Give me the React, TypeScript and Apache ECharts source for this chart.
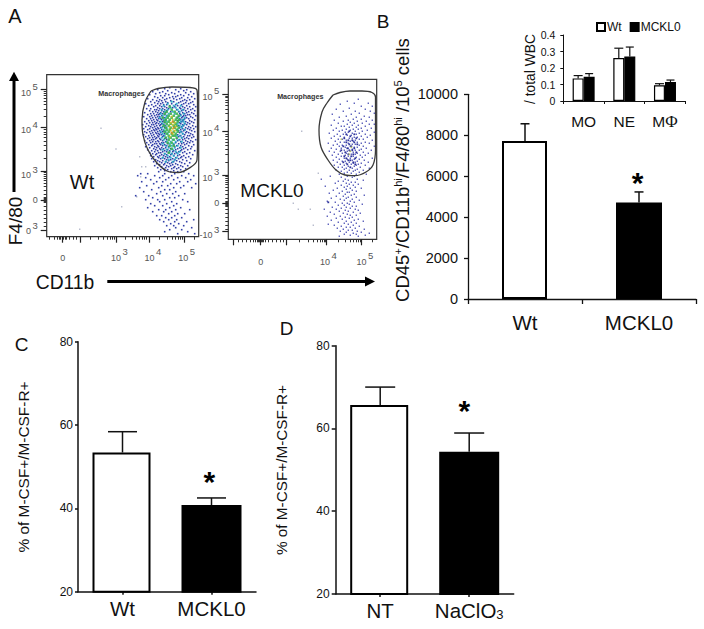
import React, { useEffect, useRef } from "react";
import * as echarts from "echarts";

const FONT = "Liberation Sans";

// ---- Panel B
const bCats = ["Wt", "MCKL0"];
const bValues = [7720, 4720];
const bUpper = [8560, 5230];
// ---- Panel B inset
const insetCats = ["MO", "NE", "MΦ"];
const insetWt = [0.137, 0.26, 0.095];
const insetWtUpper = [0.154, 0.32, 0.105];
const insetKo = [0.147, 0.27, 0.115];
const insetKoUpper = [0.166, 0.327, 0.127];
// ---- Panel C
const cCats = ["Wt", "MCKL0"];
const cValues = [53.4, 40.8];
const cUpper = [58.4, 42.5];
// ---- Panel D
const dCats = ["NT", "NaClO3"];
const dValues = [65.7, 54.4];
const dUpper = [70, 58.9];

// ---- Panel A: display-channel scale of each flow plot
const a1XMajor = [15.6, 33.3, 70, 102.3, 137.3];
const a1XMinor = [3, 8, 11, 12.5, 14, 17, 18.5, 20, 23, 27, 30, 44, 52, 57, 61, 64, 66, 68, 79, 86, 90, 93, 96, 98, 100, 113, 121, 126, 129, 132, 134, 136, 148];
const a1YMajor = [147.4, 109, 65, 36.7, 6.7];
const a1YMinor = [120.6, 127.3, 132.1, 135.8, 138.9, 141.4, 143.7, 145.6, 78.2, 86, 91.5, 95.8, 99.2, 102.2, 104.7, 107, 42, 46, 50, 53, 56, 58, 60, 62, 64, 34, 35, 36, 37, 38, 39, 30, 26, 22, 18, 14, 10];
const a1XLabels: [number, string][] = [[16, "0"], [72.6, "10{s|3}"], [106.3, "10{s|4}"], [140, "10{s|5}"]];
const a1YLabels: [number, string][] = [[143.9, "10{s|5}"], [106.4, "10{s|4}"], [61.7, "10{s|3}"], [36.7, "0"], [5.7, "0{s|3}"]];

const a2XMajor = [5, 32.4, 58.4, 98.4, 133.4];
const a2XMinor = [10, 14, 18, 22, 25, 27, 29, 30, 31, 33, 34, 35, 37, 40, 44, 48, 52, 55, 71, 80, 85, 89, 92, 94, 96, 97, 110, 117, 122, 125, 128, 130, 132, 144];
const a2YMajor = [145.3, 107.6, 64, 36, 7.6];
const a2YMinor = [119, 125.7, 130.3, 134, 137, 139.4, 141.6, 143.5, 77, 84.6, 90, 94, 97.5, 100.4, 102.8, 105, 41, 45, 49, 52, 55, 57, 59, 61, 63, 33, 34, 35, 37, 38, 30, 26, 22, 18, 14, 10];
const a2XLabels: [number, string][] = [[32.4, "0"], [100, "10{s|4}"], [136.7, "10{s|5}"]];
const a2YLabels: [number, string][] = [[142.6, "10{s|5}"], [106, "10{s|4}"], [61.6, "10{s|3}"], [36, "0"], [4.3, "-10{s|3}"]];

const gateWt = [[104.3, 145.7], [111.3, 148.2], [125.3, 149.7], [143.3, 149.2], [150.3, 146.7], [150.8, 136.7], [150.8, 96.7], [150.3, 76.7], [144.3, 69.7], [131.3, 64.2], [120.3, 65.7], [110.3, 73.7], [101.3, 86.7], [96.3, 101.7], [95.3, 116.7], [98.3, 134.7], [104.3, 145.7]];
const gateKo = [[104.7, 144.3], [111.7, 146.8], [121.7, 148.3], [133.7, 148.3], [143.7, 146.8], [147.2, 142.3], [147.2, 119.3], [147.2, 89.3], [144.7, 74.3], [137.7, 67.3], [126.7, 63.6], [116.7, 64.3], [107.7, 69.3], [99.7, 79.3], [92.7, 92.3], [90.7, 109.3], [93.7, 127.3], [98.7, 136.3], [104.7, 144.3]];

type Rows = [number, number[]][];
const wtBlue: Rows = [
  [149, [123]], [148, [118, 134]], [147, [111, 129, 140]], [146, [121, 137]], [145, [106, 116, 132, 144]], [144, [113, 125, 139]],
  [143, [109, 119, 128, 147]], [142, [103, 122, 134, 142]], [141, [114, 118, 131, 137]], [140, [108, 126, 129, 145]],
  [139, [111, 116, 123, 135, 141]], [138, [101, 120, 127, 133, 148]], [137, [106, 113, 118, 130, 138, 143]], [136, [110, 115, 124, 136, 140]],
  [135, [104, 112, 119, 127, 134, 146]], [134, [108, 116, 121, 132, 139, 144]], [133, [99, 111, 114, 125, 137, 142]], [132, [105, 117, 120, 129, 135, 147]],
  [131, [102, 109, 113, 123, 131, 140]], [130, [107, 115, 118, 128, 136, 143, 149]], [129, [111, 120, 126, 133, 138]], [128, [100, 104, 113, 116, 122, 134, 141, 146]],
  [127, [108, 110, 118, 130, 137, 144]], [126, [103, 112, 115, 120, 135, 139, 148]], [125, [106, 109, 117, 124, 132, 142]], [124, [98, 111, 114, 119, 136, 140, 145]],
  [123, [104, 107, 113, 116, 133, 138, 147]], [122, [101, 110, 112, 118, 134, 141, 143]], [121, [105, 108, 115, 120, 137, 139, 149]], [120, [97, 103, 111, 113, 132, 136, 144]],
  [119, [106, 109, 116, 118, 135, 140, 146]], [118, [100, 104, 112, 114, 133, 138, 142]], [117, [107, 110, 115, 119, 134, 137, 148]], [116, [102, 105, 111, 117, 131, 136, 143]],
  [115, [98, 108, 113, 116, 135, 139, 145]], [114, [103, 106, 110, 118, 133, 141, 147]], [113, [100, 109, 112, 115, 134, 138, 143]], [112, [96, 105, 107, 114, 117, 136, 140]],
  [111, [102, 110, 113, 119, 132, 137, 146]], [110, [99, 104, 108, 116, 135, 142, 149]], [109, [106, 111, 114, 118, 133, 139, 144]], [108, [97, 103, 109, 112, 136, 141, 147]],
  [107, [101, 107, 110, 115, 134, 138, 143]], [106, [105, 108, 113, 117, 132, 137, 145]], [105, [98, 103, 111, 116, 135, 140, 148]], [104, [100, 106, 109, 114, 133, 139, 142]],
  [103, [104, 110, 112, 118, 136, 144]], [102, [97, 107, 113, 115, 131, 138, 146]], [101, [102, 105, 111, 117, 134, 141, 143]], [100, [99, 108, 112, 116, 132, 137, 147]],
  [99, [103, 106, 110, 119, 135, 140, 145]], [98, [101, 109, 113, 118, 130, 138, 142]], [97, [105, 107, 114, 120, 133, 136, 149]], [96, [98, 103, 111, 116, 131, 139, 144]],
  [95, [106, 109, 112, 119, 134, 141, 146]], [94, [100, 104, 115, 117, 129, 137, 143]], [93, [108, 110, 113, 121, 132, 135, 140]], [92, [102, 106, 114, 118, 127, 138, 147]],
  [91, [105, 111, 116, 120, 130, 134, 142]], [90, [99, 108, 112, 122, 128, 136, 145]], [89, [103, 110, 115, 119, 133, 139]], [88, [107, 113, 117, 124, 131, 137, 144]],
  [87, [101, 109, 114, 121, 129, 135, 141]], [86, [105, 111, 118, 123, 127, 134, 148]], [85, [108, 116, 120, 126, 132, 138]], [84, [103, 112, 114, 122, 130, 136, 143]],
  [83, [106, 110, 118, 125, 128, 140]], [82, [109, 115, 120, 124, 133, 146]], [81, [104, 113, 117, 127, 131, 137]], [80, [107, 111, 119, 123, 135, 142]],
  [79, [112, 116, 121, 129, 134, 139]], [78, [105, 114, 118, 126, 132, 144]], [77, [109, 120, 124, 128, 136]], [76, [111, 116, 122, 130, 140]],
  [75, [107, 113, 119, 127, 133]], [74, [115, 121, 125, 135, 143]], [73, [110, 118, 123, 129, 138]], [72, [113, 117, 126, 131]], [71, [108, 120, 124, 134, 141]],
  [70, [115, 122, 128, 136]], [69, [111, 119, 127, 132]], [68, [117, 125, 130, 139]], [67, [114, 121, 134]], [66, [118, 127]], [65, [112, 124, 131, 137]],
  [63, [94, 101, 118, 128, 142]], [61, [91, 108, 116, 125, 135, 147]], [59, [99, 113, 122, 131, 139]], [57, [104, 119, 127, 144]], [55, [95, 110, 116, 133, 141]],
  [53, [107, 124, 130, 149]], [51, [100, 115, 121, 137]], [49, [93, 112, 127, 134, 145]], [47, [105, 118, 123]], [45, [97, 114, 129]], [43, [110, 120, 126, 138]],
  [41, [89, 102, 116, 132]], [39, [106, 123, 128]], [37, [99, 111, 118, 136]], [35, [113, 125, 141]], [33, [104, 120, 130]], [31, [108, 116, 127]], [29, [101, 123, 134]],
  [27, [112, 119, 129, 143]], [25, [106, 117, 125]], [23, [122, 131, 138]], [21, [110, 115, 128]], [19, [119, 125, 135]], [17, [113, 122, 130, 147]], [15, [117, 128, 140]],
  [13, [124, 132]], [11, [120, 127, 137]], [9, [129, 145]], [7, [123, 135]], [5, [118, 141]], [3, [131, 148]],
];
const wtCyan: Rows = [
  [135, [125]], [133, [121, 130]], [131, [117, 127, 134]], [129, [124, 129]], [127, [115, 121, 131, 136]], [125, [118, 126, 133]], [123, [114, 122, 128, 137]],
  [121, [116, 120, 134]], [119, [113, 119, 131, 138]], [117, [117, 133, 136]], [115, [114, 120, 134, 137]], [113, [116, 131, 138]], [111, [118, 133, 136]],
  [109, [115, 120, 135]], [107, [117, 131, 138]], [105, [114, 119, 134]], [103, [116, 121, 136]], [101, [118, 130, 133]], [99, [115, 122, 135]], [97, [117, 126, 132]],
  [95, [120, 124, 129, 135]], [93, [116, 123, 127]], [91, [119, 125, 131]], [89, [122, 128, 134]], [87, [116, 120, 126]], [85, [123, 129, 133]], [83, [118, 125, 131]],
  [81, [121, 127]], [79, [116, 124, 130]], [77, [122, 128]], [75, [119, 126]],
];
const wtGreen: Rows = [
  [130, [123]], [127, [125]], [125, [120, 128]], [123, [118, 124, 130]], [121, [122, 127, 132]], [119, [116, 121, 125, 130]], [117, [119, 123, 129, 132]],
  [115, [118, 122, 127, 131]], [113, [120, 124, 129]], [111, [117, 122, 127, 130]], [109, [119, 124, 128, 132]], [107, [120, 123, 130]], [105, [118, 122, 127, 131]],
  [103, [120, 125, 129]], [101, [122, 126, 128]], [99, [119, 124, 130]], [97, [122, 127]], [94, [121, 125]], [91, [123, 127]], [88, [125]], [84, [122]],
];
const wtYellow: Rows = [[120, [125]], [117, [126]], [114, [124, 128]], [112, [126]], [110, [123, 129]], [108, [126]], [106, [124, 128]], [103, [126]], [100, [123]]];
const wtOrange: Rows = [[115, [126]], [109, [127]], [104, [125]]];
const wtPale: Rows = [[108.4, [54.3]], [87.7, [69.3]], [30, [75]], [7.4, [33]], [40, [90]], [80, [93]], [70, [95, 99]], [60, [94]]];

const koBlue: Rows = [
  [140, [130]], [138, [119]], [136, [126, 140]], [135, [112]], [133, [133, 144]], [131, [121]], [130, [108, 137]], [128, [115, 127, 142]], [126, [131, 146]], [125, [104, 123]],
  [123, [118, 136]], [122, [111, 128, 141]], [120, [125, 133]], [119, [106, 120, 144]], [118, [115, 129, 138]], [117, [122]], [116, [110, 126, 134]], [115, [119, 141, 146]],
  [114, [103, 124, 130]], [113, [113, 116, 137]], [112, [121, 128]], [111, [108, 133, 143]], [110, [118, 125, 130]], [109, [105, 114, 122, 139]], [108, [111, 127, 134]],
  [107, [117, 120, 146]], [106, [101, 124, 131]], [105, [109, 115, 128, 137]], [104, [119, 123, 142]], [103, [106, 112, 133]], [102, [116, 126, 129, 139]], [101, [103, 121, 124]],
  [100, [110, 114, 131, 135]], [99, [118, 127, 144]], [98, [107, 122, 125]], [97, [112, 116, 129, 137]], [96, [100, 120, 133, 141]], [95, [109, 124, 127]], [94, [105, 114, 118, 131]],
  [93, [111, 122, 135, 146]], [92, [117, 126, 129]], [91, [103, 113, 120, 138]], [90, [108, 124, 133]], [89, [116, 127, 131, 143]], [88, [101, 112, 119, 122]], [87, [106, 125, 135]],
  [86, [114, 118, 129, 140]], [85, [110, 123, 127]], [84, [104, 117, 132, 137]], [83, [113, 120, 125]], [82, [108, 128, 134]], [81, [116, 122, 144]], [80, [111, 119, 126, 131]],
  [79, [105, 124, 136]], [78, [114, 117, 129]], [77, [109, 121, 127, 140]], [76, [118, 125, 133]], [75, [112, 123, 130]], [74, [106, 116, 128, 137]], [73, [120, 126]], [72, [110, 114, 132]],
  [71, [118, 124, 141]], [70, [116, 129]], [69, [108, 121, 127, 135]], [68, [113, 125]], [67, [119, 131]], [66, [116, 123]], [65, [111, 128, 138]],
  [63, [102, 119, 126]], [62, [113, 124]], [60, [93, 117, 129]], [59, [120, 135]], [58, [110, 115]], [57, [123, 127]], [56, [107, 118]], [55, [121, 130]], [54, [113, 125]], [53, [97, 119]],
  [52, [116, 127]], [51, [109, 122, 133]], [50, [118]], [49, [105, 124]], [48, [114, 128]], [47, [119, 121]], [46, [101, 111]], [45, [117, 126]], [44, [123, 136]], [43, [108, 115]],
  [42, [120, 128]], [41, [103, 118]], [40, [112, 124]], [39, [116, 131]], [38, [99, 122]], [37, [107, 126]], [36, [114, 119]], [35, [121, 134]], [34, [110, 116]], [33, [124, 128]],
  [32, [104, 118]], [31, [113, 122]], [30, [96, 108, 127]], [29, [117, 130]], [28, [111, 120]], [27, [102, 125]], [26, [115, 132]], [25, [106, 119]], [24, [122, 128]], [23, [99, 112]],
  [22, [117, 124]], [21, [108, 121]], [20, [114, 130]], [19, [103, 126]], [18, [118, 135]], [17, [110, 123]], [16, [116, 128]], [15, [100, 120]], [14, [106, 125]], [13, [113, 131]],
  [12, [118, 122]], [11, [109, 127]], [10, [115, 136]], [9, [120, 124]], [8, [112, 129]], [7, [118, 133]], [6, [125, 141]], [5, [116, 128]], [4, [122, 137]], [3, [111, 130]],
];
const koNavy: Rows = [
  [108, [121]], [105, [118, 126]], [103, [122]], [101, [116, 128]], [99, [120, 124]], [97, [118, 126]], [95, [121, 129]], [93, [115, 123]], [91, [119, 126]], [89, [113, 121, 124]],
  [87, [117, 128]], [85, [120, 125]], [83, [116, 123]], [81, [118, 127]], [79, [120, 122]], [77, [115, 125]], [75, [119, 127]], [72, [122]], [37, [100]],
];
const koLight: Rows = [[92, [123]], [88, [122]], [85, [121]], [100, [113]]];
const koPale: Rows = [[108, [73.4]], [36, [65]], [30, [70, 82]], [14, [85]], [66, [90]]];

const toPoints = (rows: Rows) => rows.flatMap(([y, xs]) => xs.map((x) => [x, y]));

const TICK_GRAY = "#555";

function flowAxes(gridIndex: number, xRange: number, yRange: number, xMajor: number[], xMinor: number[], yMajor: number[], yMinor: number[], xLabels: [number, string][], yLabels: [number, string][], xMargin: number, yMargin: number) {
  const rich = {
    s: { fontSize: 9.5, fontFamily: FONT, color: TICK_GRAY, verticalAlign: "bottom", padding: [0, 0, 12, 1.5] },
  };
  const fmt = (list: [number, string][]) => (v: number) => {
    const hit = list.find((e) => Math.abs(e[0] - v) < 0.01);
    return hit ? hit[1] : "";
  };
  const mk = (range: number, major: number[], labels: [number, string][], margin: number) => ({
    type: "value", gridIndex, min: 0, max: range, splitLine: { show: false },
    axisLine: { show: false, onZero: false },
    axisTick: { show: true, customValues: major, length: 6, lineStyle: { color: "#222", width: 1.2 } },
    axisLabel: { show: true, customValues: labels.map((e) => e[0]), formatter: fmt(labels), margin, fontFamily: FONT, fontSize: 9, color: TICK_GRAY, rich, hideOverlap: false, showMinLabel: true, showMaxLabel: true, verticalAlign: "middle" },
  });
  const mkMinor = (range: number, minor: number[]) => ({
    type: "value", gridIndex, min: 0, max: range, splitLine: { show: false },
    axisLine: { show: false, onZero: false },
    axisTick: { show: true, customValues: minor, length: 3, lineStyle: { color: "#333", width: 1 } },
    axisLabel: { show: false },
  });
  return {
    x: { ...mk(xRange, xMajor, xLabels, xMargin), position: "bottom" },
    y: { ...mk(yRange, yMajor, yLabels, yMargin), position: "left" },
    xm: { ...mkMinor(xRange, xMinor), position: "bottom" },
    ym: { ...mkMinor(yRange, yMinor), position: "left" },
  };
}

const dots = (rows: Rows, color: string, size: number, axis: number, opacity = 0.9) => ({
  type: "scatter", xAxisIndex: axis, yAxisIndex: axis, data: toPoints(rows), symbol: "rect", symbolSize: size,
  itemStyle: { color, opacity }, silent: true,
});
const gate = (pts: number[][], axis: number) => ({
  type: "line", xAxisIndex: axis, yAxisIndex: axis, data: pts, smooth: 0.35, showSymbol: false, clip: false,
  lineStyle: { color: "#3a3a3a", width: 1.3 }, silent: true, z: 5,
});
const bars = (name: string, values: number[], axis: number, fill: string, width: number, border: number, gap?: string) => ({
  type: "bar", name, xAxisIndex: axis, yAxisIndex: axis, data: values, barWidth: width, barGap: gap,
  itemStyle: { color: fill, borderColor: "#000", borderWidth: border }, silent: true,
});
const errors = (values: number[], upper: number[], axis: number, cap: number, lw: number, offset = 0) => ({
  type: "custom", xAxisIndex: axis, yAxisIndex: axis, silent: true, z: 4,
  data: values.map((v, i) => [i, v, upper[i]]),
  renderItem: (_: unknown, api: any) => {
    const base = api.coord([api.value(0), api.value(1)]);
    const top = api.coord([api.value(0), api.value(2)]);
    const x = base[0] + offset;
    const style = { stroke: "#111", lineWidth: lw };
    return {
      type: "group",
      children: [
        { type: "line", shape: { x1: x, y1: base[1], x2: x, y2: top[1] }, style },
        { type: "line", shape: { x1: x - cap / 2, y1: top[1], x2: x + cap / 2, y2: top[1] }, style },
      ],
    };
  },
});
const catAxis = (gridIndex: number, cats: string[], fontSize: number, margin: number, align: boolean, tickLen: number, lw: number, rich?: object, fmt?: (s: string) => string) => ({
  type: "category", gridIndex, data: cats, position: "bottom",
  axisLine: { show: true, onZero: false, lineStyle: { color: "#111", width: lw } },
  axisTick: { show: true, alignWithLabel: align, length: tickLen, lineStyle: { color: "#111", width: lw } },
  axisLabel: { fontFamily: FONT, fontSize, color: "#111", margin, interval: 0, rich, formatter: fmt },
});
const valAxis = (gridIndex: number, min: number, max: number, interval: number, fontSize: number, margin: number, tickLen: number, lw: number, fmt?: (v: number) => string) => ({
  type: "value", gridIndex, min, max, interval, position: "left", splitLine: { show: false },
  axisLine: { show: true, onZero: false, lineStyle: { color: "#111", width: lw } },
  axisTick: { show: true, length: tickLen, lineStyle: { color: "#111", width: lw } },
  axisLabel: { fontFamily: FONT, fontSize, color: "#111", margin, formatter: fmt ?? ((v: number) => String(v)) },
});

const txt = (text: string, x: number, y: number, fontSize: number, extra: object = {}, rotation = 0) => ({
  type: "text", x, y, rotation, silent: true, z: 10,
  style: { text, fontFamily: FONT, fontSize, fill: "#111", align: "center", verticalAlign: "middle", ...extra },
});
const star = (x: number, y: number) => txt("*", x, y, 30, { fontWeight: "bold", fill: "#000" });
const rule = (x1: number, y1: number, x2: number, y2: number) => ({
  type: "line", silent: true, z: 10, shape: { x1, y1, x2, y2 }, style: { stroke: "#000", lineWidth: 3 },
});

export default function App() {
  const ref = useRef<HTMLDivElement>(null);
  useEffect(() => {
    const chart = echarts.init(ref.current!, undefined, { renderer: "svg" });
    const a1 = flowAxes(0, 152, 162, a1XMajor, a1XMinor, a1YMajor, a1YMinor, a1XLabels, a1YLabels, 21, 9);
    const a2 = flowAxes(1, 148.4, 160, a2XMajor, a2XMinor, a2YMajor, a2YMinor, a2XLabels, a2YLabels, 22.5, 9);
    const supRich = { s: { fontSize: 11, fontFamily: FONT, fill: "#111", verticalAlign: "top" } };
    chart.setOption({
      animation: false,
      backgroundColor: "#fff",
      grid: [
        { left: 46.7, top: 74.7, width: 152, height: 162, show: true, borderColor: "#333", borderWidth: 1.2, backgroundColor: "transparent" },
        { left: 228.3, top: 79.3, width: 148.4, height: 160, show: true, borderColor: "#333", borderWidth: 1.2, backgroundColor: "transparent" },
        { left: 468, top: 94.3, width: 228, height: 204.7 },
        { left: 563.3, top: 35, width: 122, height: 66 },
        { left: 78, top: 341.7, width: 178, height: 250 },
        { left: 335.7, top: 345.7, width: 178, height: 248.3 },
      ],
      xAxis: [
        a1.x, a2.x,
        catAxis(2, bCats, 20.5, 13, false, 5, 1.3),
        catAxis(3, insetCats, 15.5, 12, false, 3, 1, { p: { fontFamily: "Liberation Serif", fontSize: 17, color: "#111" } }, (s) => (s === "MΦ" ? "M{p|Φ}" : s)),
        catAxis(4, cCats, 20.5, 6, true, 3, 1.5),
        catAxis(5, dCats, 20.5, 6, true, 3, 1.5, { sub: { fontSize: 13, fontFamily: FONT, color: "#111", verticalAlign: "bottom", padding: [6, 0, 0, 0] } }, (s) => (s === "NaClO3" ? "NaClO{sub|3}" : s)),
        a1.xm, a2.xm,
      ],
      yAxis: [
        a1.y, a2.y,
        valAxis(2, 0, 10000, 2000, 14.5, 10, 4, 1.3),
        valAxis(3, 0, 0.4, 0.1, 10.5, 8, 3, 1, (v) => (v === 0 ? "0" : v.toFixed(1))),
        valAxis(4, 20, 80, 20, 12, 5, 3, 1.5),
        valAxis(5, 20, 80, 20, 12, 6, 4, 1.5),
        a1.ym, a2.ym,
      ],
      legend: {
        show: true, left: 591, top: 16, itemWidth: 8, itemHeight: 8, itemGap: 8, selectedMode: false, icon: "rect",
        data: ["Wt", "MCKL0"], textStyle: { fontFamily: FONT, fontSize: 12, color: "#111", padding: [0, 0, 0, -3] },
      },
      series: [
        dots(wtPale, "#9aa0b8", 1.4, 0, 0.7),
        dots(wtBlue, "#1c2a9e", 1.6, 0),
        dots(wtCyan, "#20a8c8", 2, 0),
        dots(wtGreen, "#38b050", 2.5, 0),
        dots(wtYellow, "#c8c020", 2, 0),
        dots(wtOrange, "#e08020", 1.8, 0),
        gate(gateWt, 0),
        dots(koPale, "#9aa0b8", 1.4, 1, 0.7),
        dots(koBlue, "#3a3fae", 1.4, 1, 0.8),
        dots(koNavy, "#1a1f90", 1.8, 1),
        dots(koLight, "#b8c060", 1.6, 1),
        gate(gateKo, 1),

        bars("Wt cells", [bValues[0], null] as number[], 2, "#fff", 45, 2),
        bars("MCKL0 cells", [null, bValues[1]] as number[], 2, "#000", 46, 2, "-100%"),
        errors(bValues, bUpper, 2, 9, 1.5),

        bars("Wt", insetWt, 3, "#fff", 11, 1.2, "0%"),
        bars("MCKL0", insetKo, 3, "#000", 11, 1.2, "0%"),
        errors(insetWt, insetWtUpper, 3, 9, 1.2, -5.5),
        errors(insetKo, insetKoUpper, 3, 8, 1.2, 5.5),

        bars("C Wt", [cValues[0], null] as number[], 4, "#fff", 58, 2),
        bars("C MCKL0", [null, cValues[1]] as number[], 4, "#000", 60, 2, "-100%"),
        errors(cValues, cUpper, 4, 29, 1.5),

        bars("D NT", [dValues[0], null] as number[], 5, "#fff", 58, 2),
        bars("D NaClO3", [null, dValues[1]] as number[], 5, "#000", 60, 2, "-100%"),
        errors(dValues, dUpper, 5, 30, 1.5),
      ],
      graphic: [
        txt("A", 15, 16, 20),
        txt("B", 383, 21, 19),
        txt("C", 21.5, 344, 19),
        txt("D", 286.5, 328, 19),
        txt("Macrophages", 121.5, 93, 7.2, { fontWeight: "bold", fill: "#333" }),
        txt("Macrophages", 300.3, 96.5, 7.2, { fontWeight: "bold", fill: "#333" }),
        txt("Wt", 82, 182, 20),
        txt("MCKL0", 272, 190, 19),
        txt("F4/80", 15, 221, 19, {}, Math.PI / 2),
        txt("CD11b", 65, 282, 19.3),
        rule(14, 192, 14, 78),
        { type: "polygon", silent: true, z: 10, shape: { points: [[14, 71.7], [19, 81], [9, 81]] }, style: { fill: "#000" } },
        rule(107.3, 281.5, 367, 281.5),
        { type: "polygon", silent: true, z: 10, shape: { points: [[375, 281.5], [365, 276.5], [365, 286.5]] }, style: { fill: "#000" } },
        txt("CD45{s|+}/CD11b{s|hi}/F4/80{s|hi} /10{s|5} cells", 402, 170, 18.5, { rich: supRich }, Math.PI / 2),
        txt("/ total WBC", 530, 69, 13.8, {}, Math.PI / 2),
        txt("% of M-CSF+/M-CSF-R+", 23, 467, 15.4, {}, Math.PI / 2),
        txt("% of M-CSF+/M-CSF-R+", 281.7, 470, 15.3, {}, Math.PI / 2),
        star(637.7, 182),
        star(209.3, 481),
        star(464.3, 410),
      ],
    });
    return () => chart.dispose();
  }, []);
  return <div ref={ref} style={{ position: "absolute", left: 0, top: 0, width: 704, height: 629 }} />;
}
